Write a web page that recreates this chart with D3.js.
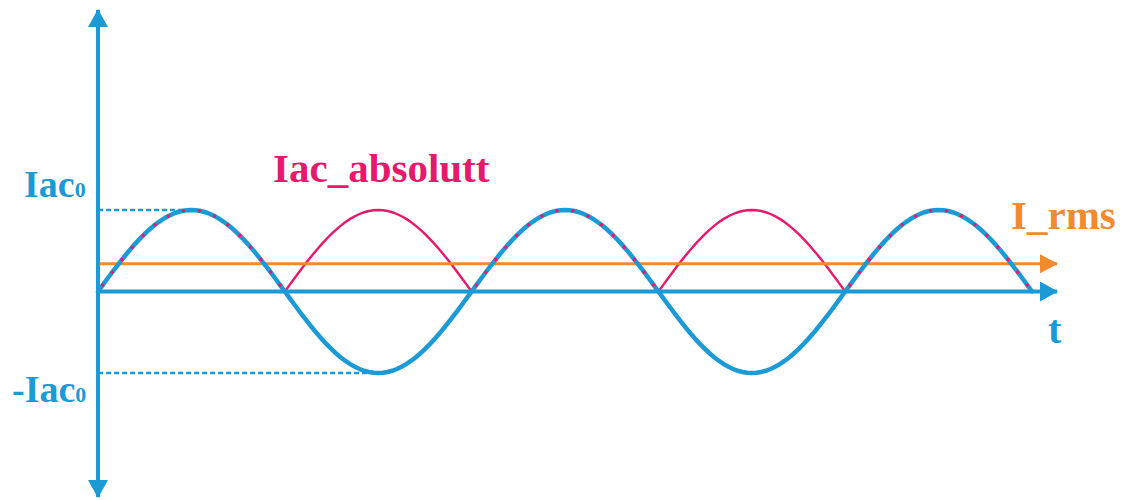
<!DOCTYPE html>
<html>
<head>
<meta charset="utf-8">
<script src="https://cdn.jsdelivr.net/npm/d3@7"></script>
<style>
  body { margin: 0; background: #fff; }
  text { font-family: "Liberation Serif", "Times New Roman", serif; font-weight: bold; }
</style>
</head>
<body>
<div id="chart"></div>
<script>
// half-wave boundaries (in half periods) and the sign of each half wave
const zeroTimes = [0, 1, 2, 3, 4, 5];
const halfSigns = [1, -1, 1, -1, 1];
const amplitude = [1, -1];          // Iac0, -Iac0
const rmsLevel = 0.34;              // I_rms line as drawn
const labels = { top: "Iac", bottom: "-Iac", sub: "0", abs: "Iac_absolutt", rms: "I_rms", t: "t" };

const width = 1122, height = 500;
const blue = "#1b9ad6", pink = "#e8196b", orange = "#f28a2e";

const svg = d3.select("#chart").append("svg")
    .attr("width", width).attr("height", height)
    .attr("viewBox", [0, 0, width, height]);

const x = d3.scaleLinear([0, 5], [98, 1032]);
const y = d3.scaleLinear([-1, 1], [373, 210]);

const defs = svg.append("defs");
function arrow(id, color, w, h) {
    defs.append("marker")
        .attr("id", id)
        .attr("viewBox", `0 0 ${w} ${h}`)
        .attr("refX", w - 1).attr("refY", h / 2)
        .attr("markerWidth", w).attr("markerHeight", h)
        .attr("markerUnits", "userSpaceOnUse")
        .attr("orient", "auto-start-reverse")
        .append("path")
        .attr("d", `M0,0L${w},${h / 2}L0,${h}Z`)
        .attr("fill", color);
}
arrow("arrBlue", blue, 18, 20);
arrow("arrOrange", orange, 18, 19);

// build points of each half wave (sine arc between two zeros)
function halfWave(i, sign) {
    const t0 = zeroTimes[i], t1 = zeroTimes[i + 1];
    return d3.range(0, 41).map(k => {
        const f = k / 40;
        return [t0 + f * (t1 - t0), sign * Math.sin(Math.PI * f)];
    });
}
const line = d3.line().x(d => x(d[0])).y(d => y(d[1]));

// dotted reference lines
svg.append("line")
    .attr("x1", x(0)).attr("x2", x(0.5))
    .attr("y1", y(amplitude[0])).attr("y2", y(amplitude[0]))
    .attr("stroke", blue).attr("stroke-width", 2.4)
    .attr("stroke-dasharray", "5,3");
svg.append("line")
    .attr("x1", x(0)).attr("x2", x(1.45))
    .attr("y1", y(amplitude[1])).attr("y2", y(amplitude[1]))
    .attr("stroke", blue).attr("stroke-width", 2.4)
    .attr("stroke-dasharray", "5,3");

// absolute value curve (pink) on negative halves
halfSigns.forEach((s, i) => {
    if (s < 0) {
        svg.append("path")
            .attr("d", line(halfWave(i, 1)))
            .attr("fill", "none").attr("stroke", pink).attr("stroke-width", 2.4);
    }
});

// I_rms line
svg.append("line")
    .attr("x1", x(0)).attr("x2", 1057)
    .attr("y1", y(rmsLevel)).attr("y2", y(rmsLevel))
    .attr("stroke", orange).attr("stroke-width", 3)
    .attr("marker-end", "url(#arrOrange)");

// axes
svg.append("line")
    .attr("x1", x(0)).attr("x2", 1057)
    .attr("y1", y(0)).attr("y2", y(0))
    .attr("stroke", blue).attr("stroke-width", 4)
    .attr("marker-end", "url(#arrBlue)");
svg.append("line")
    .attr("x1", x(0)).attr("x2", x(0))
    .attr("y1", 10).attr("y2", 497)
    .attr("stroke", blue).attr("stroke-width", 4)
    .attr("marker-start", "url(#arrBlue)")
    .attr("marker-end", "url(#arrBlue)");

// Iac wave (blue)
halfSigns.forEach((s, i) => {
    svg.append("path")
        .attr("d", line(halfWave(i, s)))
        .attr("fill", "none").attr("stroke", blue).attr("stroke-width", 4.5)
        .attr("stroke-linecap", "round");
});
// pink dots over positive halves
halfSigns.forEach((s, i) => {
    if (s > 0) {
        svg.append("path")
            .attr("d", line(halfWave(i, 1)))
            .attr("fill", "none").attr("stroke", pink).attr("stroke-width", 3.6)
            .attr("stroke-linecap", "round")
            .attr("stroke-dasharray", "0,16")
            .attr("stroke-dashoffset", -8);
    }
});

// labels
function subLabel(txt, xp, yp) {
    const t = svg.append("text").attr("x", xp).attr("y", yp)
        .attr("fill", blue).attr("font-size", 38).text(txt);
    t.append("tspan").attr("font-size", 22).text(labels.sub);
}
subLabel(labels.top, 24, 197);
subLabel(labels.bottom, 12, 402);

svg.append("text").attr("x", 273).attr("y", 182)
    .attr("fill", pink).attr("font-size", 41).text(labels.abs);
svg.append("text").attr("x", 1011).attr("y", 229)
    .attr("fill", orange).attr("font-size", 41).text(labels.rms);
svg.append("text").attr("x", 1048).attr("y", 343)
    .attr("fill", blue).attr("font-size", 40).text(labels.t);
</script>
</body>
</html>
